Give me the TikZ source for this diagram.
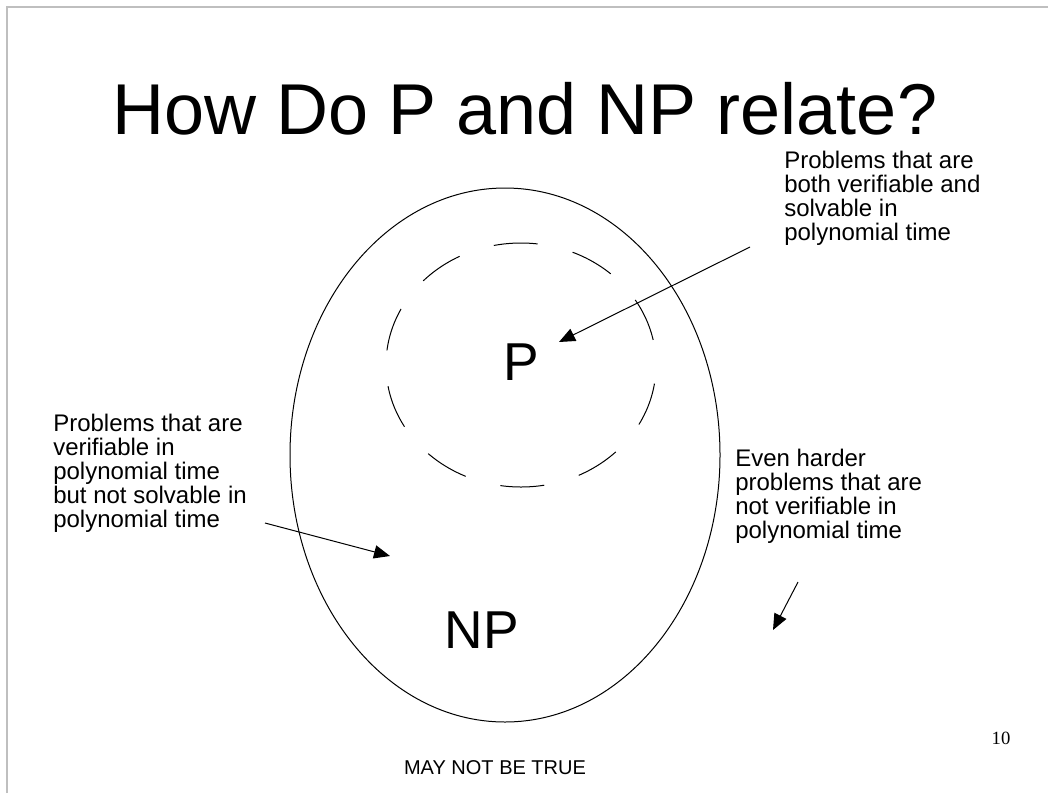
\documentclass[tikz,border=0pt]{standalone}
\usepackage{fontspec}
\setmainfont{Liberation Sans}
\newfontfamily\slidenumfont{Liberation Serif}
\usetikzlibrary{arrows.meta}

\tikzset{
  note/.style={anchor=north west, inner sep=0pt, align=left, font=\fontsize{18}{17.9}\selectfont},
  setlabel/.style={inner sep=0pt, font=\fontsize{40}{44}\selectfont},
  pointer/.style={line width=0.75pt, -{Triangle[length=12pt, width=10pt]}},
}

\begin{document}
\begin{tikzpicture}[x=0.75pt,y=0.75pt,yscale=-1,xscale=1]
    \useasboundingbox (0,0) rectangle (1048,793);
    %slide frame
    \draw [color=black!25, line width=1.1pt] (7,793) -- (7,7) -- (1048,7);

    % Title
    \node (title) [anchor=base, inner sep=0pt, font=\fontsize{54}{60}\selectfont] at (525,134) {How Do P and NP relate?};

    %Shape: Ellipse NP
    \draw [line width=0.75pt] (505,455) ellipse [x radius=215, y radius=267];
    %Shape: Ellipse P (dashed)
    \draw [line width=0.75pt, dash pattern=on 33pt off 27pt, dash phase=46pt] (521,365) ellipse [x radius=135, y radius=122];

    % Text Node
    \node (p) [setlabel] at (521,362) {P};
    \node (np) [setlabel] at (482,630) {NP};

    % Text Node
    \node (bothtext) [note] at (784,151) {Problems that are\\both verifiable and\\solvable in\\polynomial time};
    \node (nptext) [note] at (53,414) {Problems that are\\verifiable in\\polynomial time\\but not solvable in\\polynomial time};
    \node (hardtext) [note] at (735,449) {Even harder\\problems that are\\not verifiable in\\polynomial time};

    %arrow ends
    \coordinate (bothstart) at (750,247);
    \coordinate (bothtip) at (559,342);
    \coordinate (npstart) at (265,523);
    \coordinate (nptip) at (390,556);
    \coordinate (hardstart) at (798,582);
    \coordinate (hardtip) at (773,630);

    %Straight Lines
    \draw [pointer] (bothstart) -- (bothtip);
    \draw [pointer] (npstart) -- (nptip);
    \draw [pointer] (hardstart) -- (hardtip);

    % Text Node
    \node (warning) [anchor=base, inner sep=0pt, font=\fontsize{15}{18}\selectfont] at (495,774) {MAY NOT BE TRUE};
    \node (slidenum) [anchor=base, inner sep=0pt, font=\slidenumfont\fontsize{14}{16}\selectfont] at (1001,744) {10};
\end{tikzpicture}
\end{document}
